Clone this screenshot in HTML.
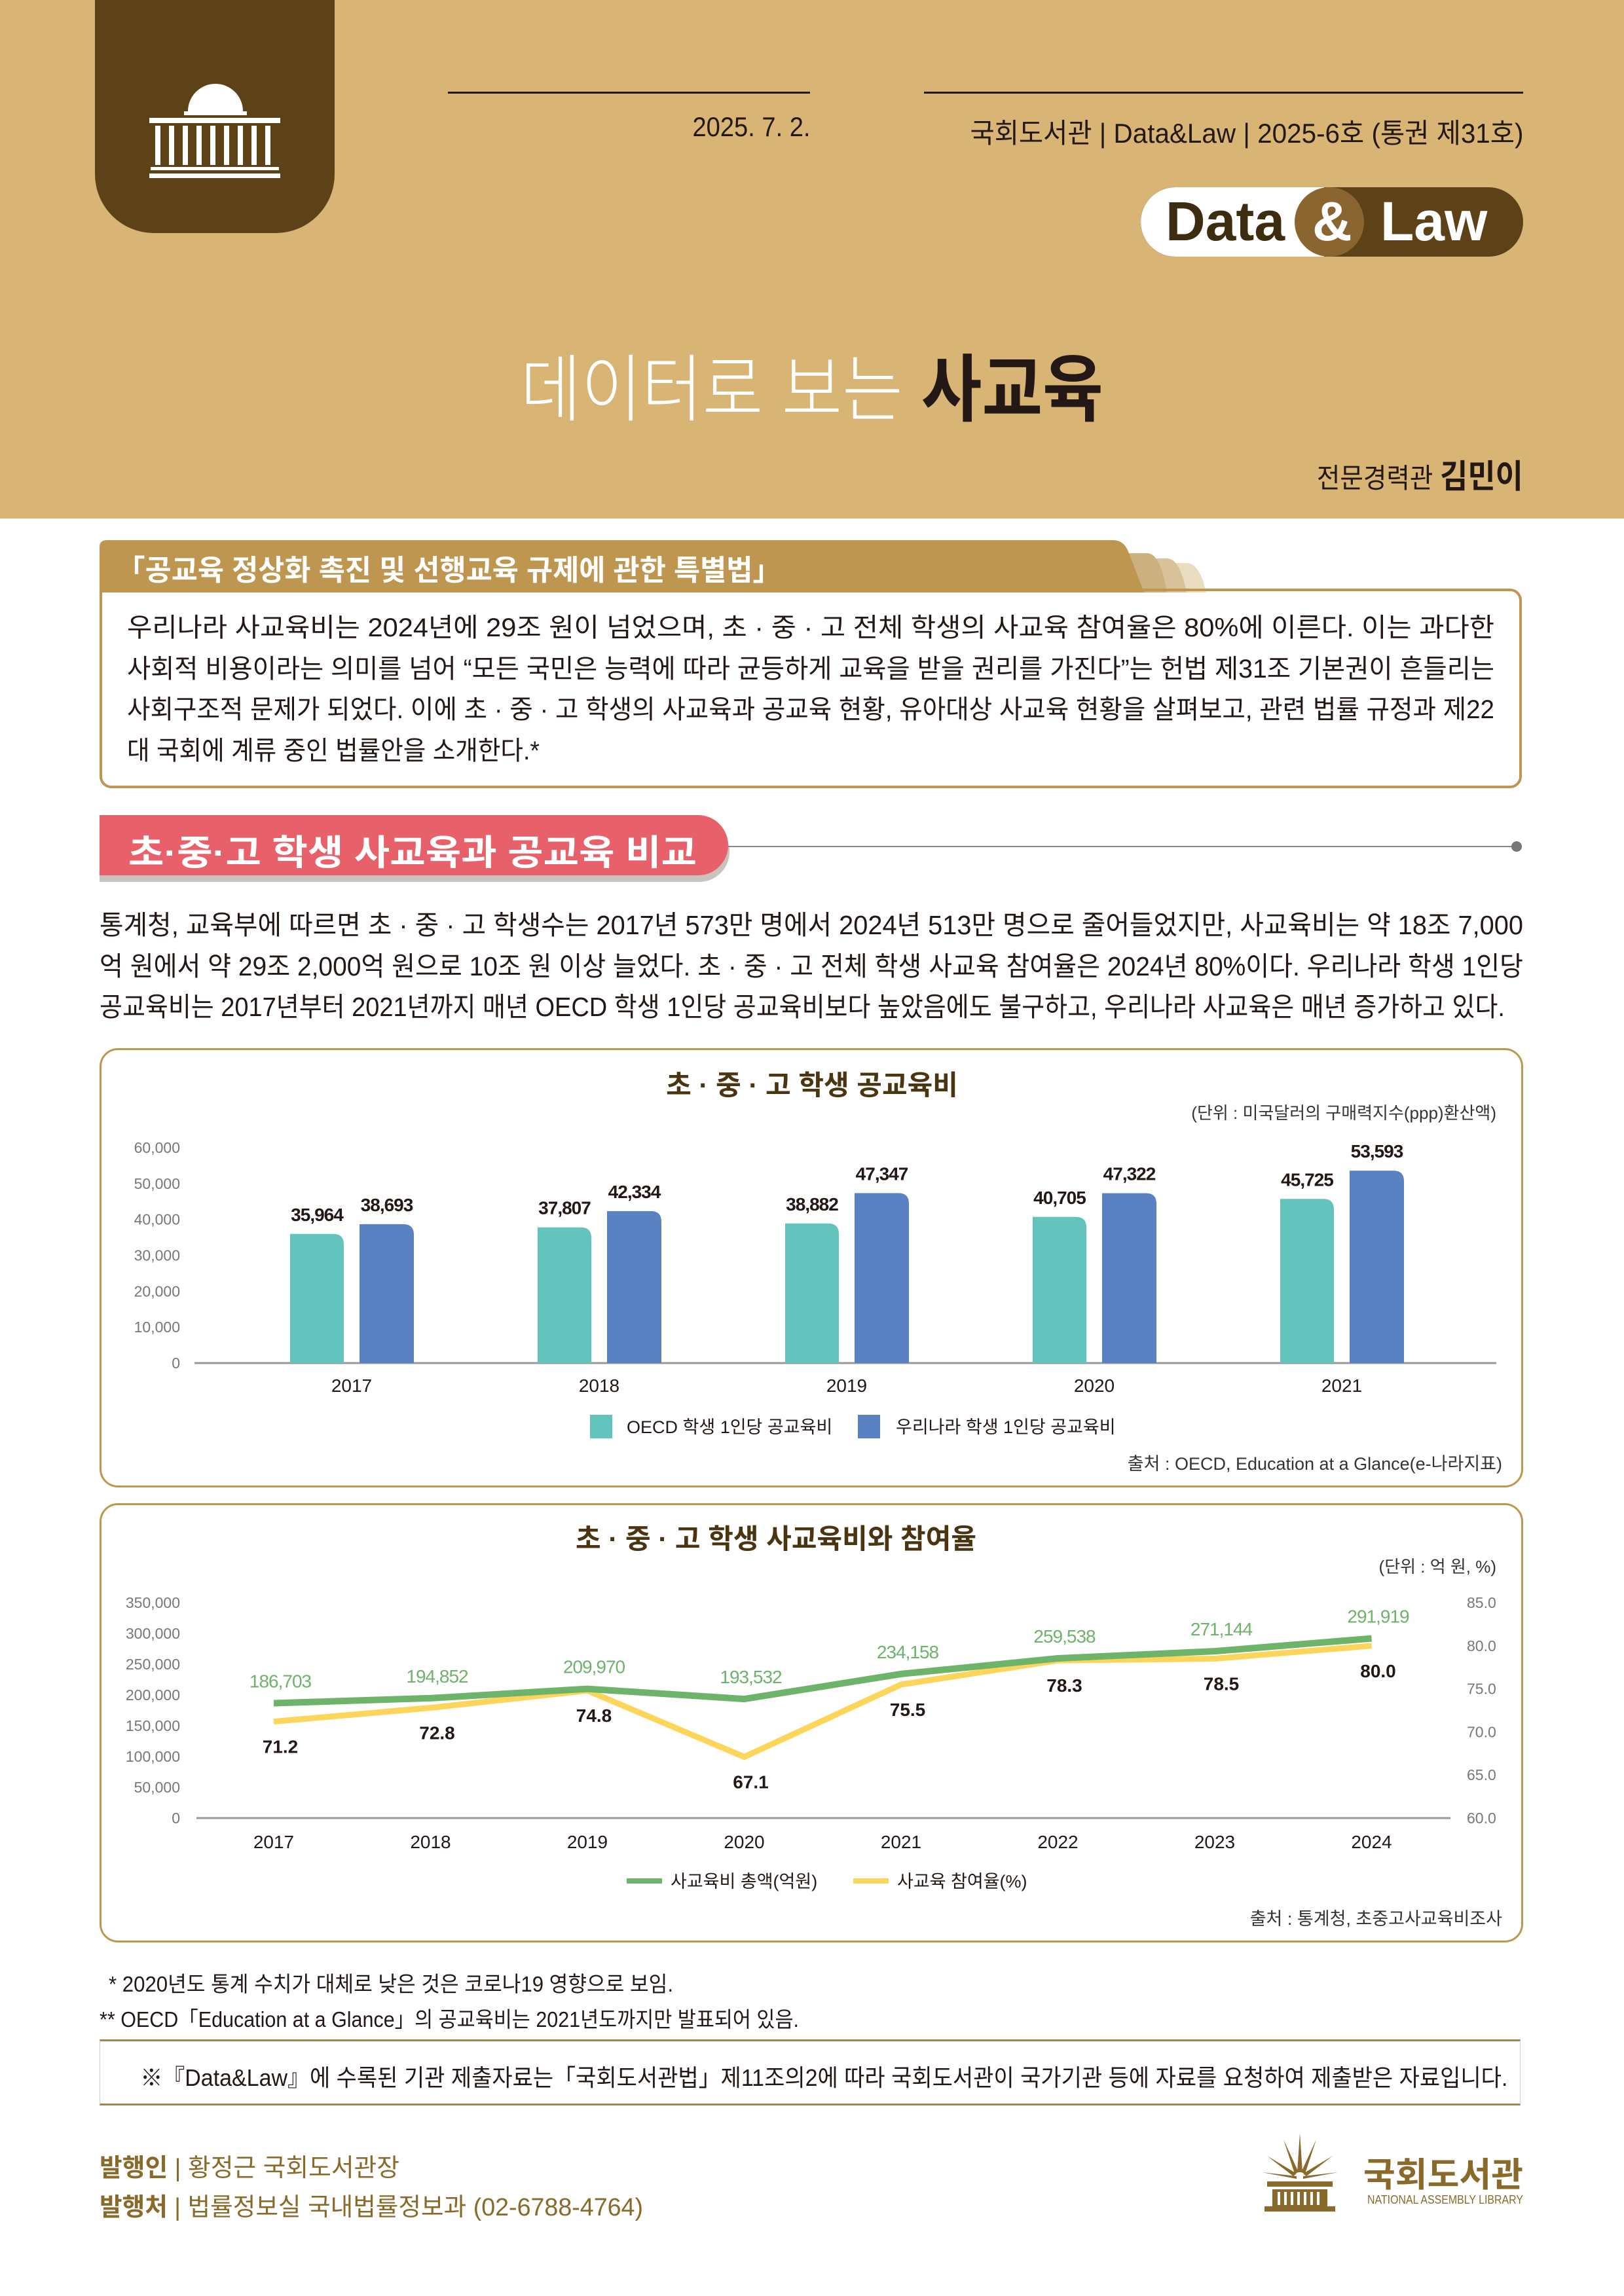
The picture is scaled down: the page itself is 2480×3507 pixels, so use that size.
<!DOCTYPE html>
<html><head><meta charset="utf-8">
<style>
*{margin:0;padding:0;box-sizing:border-box}
body{width:2480px;height:3507px;position:relative;background:#fff;font-family:"Liberation Sans","Noto Sans CJK KR",sans-serif;color:#231815;overflow:hidden}
.a{position:absolute;white-space:nowrap}
.fit{transform-origin:left center;display:inline-block}
.r .fit{transform-origin:right center}
.c .fit{transform-origin:center center}
</style></head><body>
<div class="a" style="left:0;top:0;width:2480px;height:792px;background:#d8b574"></div>
<div class="a" style="left:145px;top:0;width:366px;height:356px;background:#5c4216;border-radius:0 0 90px 90px">
<svg width="366" height="356"><g fill="#fff"><path d="M142 170 A42 42 0 0 1 226 170 Z"/><rect x="136" y="170" width="96" height="6"/><rect x="83" y="180" width="200" height="8"/>
<g><rect x="92" y="192" width="8" height="60"/><rect x="113" y="192" width="8" height="60"/><rect x="134" y="192" width="8" height="60"/><rect x="155" y="192" width="8" height="60"/><rect x="176" y="192" width="8" height="60"/><rect x="197" y="192" width="8" height="60"/><rect x="218" y="192" width="8" height="60"/><rect x="239" y="192" width="8" height="60"/><rect x="260" y="192" width="8" height="60"/></g>
<rect x="85" y="255" width="196" height="5"/><rect x="83" y="265" width="200" height="7"/></g></svg></div>
<div class="a" style="left:684px;top:140px;width:553px;height:3px;background:#231815"></div>
<div class="a" style="left:1411px;top:140px;width:915px;height:3px;background:#231815"></div>
<div class="a r" style="right:1243px;top:170px;font-size:42px;text-align:right"><span class="fit" data-w="180">2025. 7. 2.</span></div>
<div class="a r" style="right:154px;top:170px;font-size:42px;text-align:right"><span class="fit" data-w="845">국회도서관 | Data&amp;Law | 2025-6호 (통권 제31호)</span></div>
<div class="a" style="left:1742px;top:286px;width:584px;height:106px;border-radius:53px;background:#5c4216;overflow:hidden">
<div class="a" style="left:0;top:0;width:280px;height:106px;background:#fff;border-radius:53px 0 0 53px"></div>
<div class="a" style="left:235px;top:0;width:106px;height:106px;border-radius:53px;background:#8a6530"></div>
<div class="a" style="left:38px;top:4px;font-size:84px;font-weight:bold;color:#3c2c10">Data</div>
<div class="a" style="left:262px;top:4px;font-size:84px;font-weight:bold;color:#fff">&amp;</div>
<div class="a" style="left:366px;top:4px;font-size:84px;font-weight:bold;color:#fff">Law</div></div>
<div class="a c" style="left:0;width:2480px;top:505px;text-align:center;font-size:112px"><span class="fit" data-w="890"><span style="color:#fff;font-weight:300">데이터로 보는 </span><b style="color:#231815">사교육</b></span></div>
<div class="a r" style="right:154px;top:688px;font-size:42px;text-align:right"><span class="fit" data-w="315">전문경력관 <b style="font-size:50px">김민이</b></span></div>

<div class="a" style="left:152px;top:825px;width:1700px;height:80px">
<svg width="1700" height="80"><path d="M1590 35 L1660 35 Q1680 35 1690 80 L1610 80Z" fill="#eadcc0"/><path d="M1560 28 L1630 28 Q1650 28 1660 80 L1580 80Z" fill="#d9c29a"/><path d="M1530 20 L1600 20 Q1620 20 1630 80 L1550 80Z" fill="#cdb080"/><path d="M0 74 L0 10 Q0 0 12 0 L1548 0 Q1565 0 1572 20 L1595 80 L0 80Z" fill="#bf9650"/></svg></div>
<div class="a" style="left:178px;top:835px;font-size:44px;font-weight:bold;color:#fff"><span class="fit" data-w="1015">「공교육 정상화 촉진 및 선행교육 규제에 관한 특별법」</span></div>
<div class="a" style="left:152px;top:899px;width:2172px;height:305px;border:4px solid #bf9650;border-radius:0 18px 18px 18px"></div>
<div class="a" style="left:194px;top:928px;font-size:40px;line-height:62.5px">
<div><span class="fit" data-w="2088">우리나라 사교육비는 2024년에 29조 원이 넘었으며, 초 · 중 · 고 전체 학생의 사교육 참여율은 80%에 이른다. 이는 과다한</span></div>
<div><span class="fit" data-w="2088">사회적 비용이라는 의미를 넘어 “모든 국민은 능력에 따라 균등하게 교육을 받을 권리를 가진다”는 헌법 제31조 기본권이 흔들리는</span></div>
<div><span class="fit" data-w="2088">사회구조적 문제가 되었다. 이에 초 · 중 · 고 학생의 사교육과 공교육 현황, 유아대상 사교육 현황을 살펴보고, 관련 법률 규정과 제22</span></div>
<div><span class="fit" data-w="630">대 국회에 계류 중인 법률안을 소개한다.*</span></div></div>

<div class="a" style="left:152px;top:1255px;width:962px;height:92px;background:#c9c3bd;border-radius:0 46px 46px 0"></div>
<div class="a" style="left:152px;top:1245px;width:960px;height:92px;background:#e8606a;border-radius:0 46px 46px 0"></div>
<div class="a" style="left:196px;top:1258px;font-size:54px;font-weight:bold;color:#fff"><span class="fit" data-w="868">초·중·고 학생 사교육과 공교육 비교</span></div>
<div class="a" style="left:1112px;top:1292px;width:1200px;height:2px;background:#888"></div>
<div class="a" style="left:2308px;top:1285px;width:16px;height:16px;border-radius:8px;background:#777"></div>
<div class="a" style="left:152px;top:1382px;font-size:41px;line-height:62.5px">
<div><span class="fit" data-w="2174">통계청, 교육부에 따르면 초 · 중 · 고 학생수는 2017년 573만 명에서 2024년 513만 명으로 줄어들었지만, 사교육비는 약 18조 7,000</span></div>
<div><span class="fit" data-w="2174">억 원에서 약 29조 2,000억 원으로 10조 원 이상 늘었다. 초 · 중 · 고 전체 학생 사교육 참여율은 2024년 80%이다. 우리나라 학생 1인당</span></div>
<div><span class="fit" data-w="2146">공교육비는 2017년부터 2021년까지 매년 OECD 학생 1인당 공교육비보다 높았음에도 불구하고, 우리나라 사교육은 매년 증가하고 있다.</span></div></div>

<div class="a" style="left:152px;top:1601px;width:2174px;height:671px;border:3px solid #bf9650;border-radius:28px"></div>
<svg class="a" id="c1" style="left:0;top:0" width="2480" height="2300"></svg>
<div class="a" style="left:152px;top:2296px;width:2174px;height:671px;border:3px solid #bf9650;border-radius:28px"></div>
<svg class="a" id="c2" style="left:0;top:0" width="2480" height="3000"></svg>

<div class="a" style="left:166px;top:3004px;font-size:33px"><span class="fit" data-w="862">* 2020년도 통계 수치가 대체로 낮은 것은 코로나19 영향으로 보임.</span></div>
<div class="a" style="left:152px;top:3058px;font-size:33px"><span class="fit" data-w="1068">** OECD「Education at a Glance」의 공교육비는 2021년도까지만 발표되어 있음.</span></div>
<div class="a" style="left:152px;top:3115px;width:2170px;height:101px;border-top:3px solid #a38647;border-bottom:3px solid #a38647;border-left:1px solid #ccc;border-right:1px solid #ccc"></div>
<div class="a c" style="left:152px;width:2170px;top:3145px;font-size:36px;text-align:center"><span class="fit" data-w="2088">※『Data&amp;Law』에 수록된 기관 제출자료는「국회도서관법」제11조의2에 따라 국회도서관이 국가기관 등에 자료를 요청하여 제출받은 자료입니다.</span></div>
<div class="a" style="left:152px;top:3280px;font-size:38px;color:#8a6a2a"><span class="fit" data-w="458"><b>발행인</b> | 황정근 국회도서관장</span></div>
<div class="a" style="left:152px;top:3340px;font-size:38px;color:#8a6a2a"><span class="fit" data-w="830"><b>발행처</b> | 법률정보실 국내법률정보과 (02-6788-4764)</span></div>
<svg class="a" style="left:1925px;top:3258px" width="120" height="120"><g fill="#8a6a2a"><path d="M60 0 L64 60 L56 60Z"/><path d="M35 10 L58 60 L52 62Z"/><path d="M85 10 L62 60 L68 62Z"/><path d="M10 35 L55 62 L50 66Z"/><path d="M110 35 L65 62 L70 66Z"/><path d="M2 60 L55 66 L55 70Z"/><path d="M118 60 L65 66 L65 70Z"/><rect x="10" y="74" width="100" height="8"/><rect x="18" y="86" width="84" height="26" /><rect x="6" y="112" width="108" height="8"/></g><g fill="#fff"><rect x="26" y="90" width="4" height="20"/><rect x="36" y="90" width="4" height="20"/><rect x="46" y="90" width="4" height="20"/><rect x="56" y="90" width="4" height="20"/><rect x="66" y="90" width="4" height="20"/><rect x="76" y="90" width="4" height="20"/><rect x="86" y="90" width="4" height="20"/></g></svg>
<div class="a" style="left:2082px;top:3280px;font-size:52px;font-weight:bold;color:#8a6a2a"><span class="fit" data-w="244">국회도서관</span></div>
<div class="a" style="left:2088px;top:3350px;font-size:18px;color:#8a6a2a"><span class="fit" data-w="238">NATIONAL ASSEMBLY LIBRARY</span></div>

<script>
const years1 = ["2017","2018","2019","2020","2021"];
const oecdVals = [35964,37807,38882,40705,45725];
const koreaVals = [38693,42334,47347,47322,53593];
const ticks1 = [0,10000,20000,30000,40000,50000,60000];
const years2 = ["2017","2018","2019","2020","2021","2022","2023","2024"];
const spendVals = [186703,194852,209970,193532,234158,259538,271144,291919];
const rateVals = [71.2,72.8,74.8,67.1,75.5,78.3,78.5,80.0];
const ticksL = [0,50000,100000,150000,200000,250000,300000,350000];
const ticksR = [60,65,70,75,80,85];
const NS="http://www.w3.org/2000/svg";
const FONT='"Liberation Sans","Noto Sans CJK KR",sans-serif';
function mk(svg,tag,attrs,txt){const e=document.createElementNS(NS,tag);for(const k in attrs)e.setAttribute(k,attrs[k]);if(txt!==undefined)e.textContent=txt;svg.appendChild(e);return e;}
const fmt=v=>v.toLocaleString('en-US');
// chart 1
const s1=document.getElementById('c1');
const y1=v=>2082-(v/60000)*329;
const gx1=i=>537+i*378;
let t=mk(s1,'text',{x:1240,y:1672,'text-anchor':'middle','font-size':42,'font-weight':'bold',fill:'#4a3510','font-family':FONT},'초 · 중 · 고 학생 공교육비');

t=mk(s1,'text',{x:2285,y:1709,'text-anchor':'end','font-size':26,fill:'#333','font-family':FONT},'(단위 : 미국달러의 구매력지수(ppp)환산액)');

ticks1.forEach(v=>{const e=mk(s1,'text',{x:275,y:y1(v)+8,'text-anchor':'end','font-size':23,fill:'#777','font-family':FONT},fmt(v));
});
let ax=mk(s1,'line',{x1:297,x2:2285,y1:2082,y2:2082,stroke:'#999','stroke-width':3});

function bar(svg,x,w,v,col,name){const top=y1(v),r=16;
const p=mk(svg,'path',{d:`M${x} 2082 L${x} ${top} L${x+w-r} ${top} Q${x+w} ${top} ${x+w} ${top+r} L${x+w} 2082Z`,fill:col});

const l=mk(svg,'text',{x:x+w/2,y:top-20,'text-anchor':'middle','font-size':28,'font-weight':'bold',fill:'#231815','font-family':FONT,'letter-spacing':'-1'},fmt(v));
}
years1.forEach((yr,i)=>{const c=gx1(i);
bar(s1,c-94,82,oecdVals[i],'#63c3bd','bar-oecd-'+yr);
bar(s1,c+12,83,koreaVals[i],'#5a81c1','bar-korea-'+yr);
const e=mk(s1,'text',{x:c,y:2126,'text-anchor':'middle','font-size':28,fill:'#231815','font-family':FONT},yr);
});
let lg=mk(s1,'rect',{x:901,y:2161,width:34,height:36,fill:'#63c3bd'});
lg=mk(s1,'text',{x:957,y:2189,'font-size':27,fill:'#231815','font-family':FONT},'OECD 학생 1인당 공교육비');
lg=mk(s1,'rect',{x:1310,y:2161,width:34,height:36,fill:'#5a81c1'});
lg=mk(s1,'text',{x:1368,y:2189,'font-size':27,fill:'#231815','font-family':FONT},'우리나라 학생 1인당 공교육비');
lg=mk(s1,'text',{x:2294,y:2245,'text-anchor':'end','font-size':27,fill:'#333','font-family':FONT},'출처 : OECD, Education at a Glance(e-나라지표)');
// chart 2
const s2=document.getElementById('c2');
const yL=v=>2777-(v/350000)*329;
const yR=v=>2777-((v-60)/25)*329;
const gx2=i=>418+i*239.5;
t=mk(s2,'text',{x:1185,y:2365,'text-anchor':'middle','font-size':42,'font-weight':'bold',fill:'#4a3510','font-family':FONT},'초 · 중 · 고 학생 사교육비와 참여율');

t=mk(s2,'text',{x:2285,y:2402,'text-anchor':'end','font-size':26,fill:'#333','font-family':FONT},'(단위 : 억 원, %)');

ticksL.forEach(v=>{const e=mk(s2,'text',{x:275,y:yL(v)+8,'text-anchor':'end','font-size':23,fill:'#777','font-family':FONT},fmt(v));
});
ticksR.forEach(v=>{const e=mk(s2,'text',{x:2240,y:yR(v)+8,'font-size':23,fill:'#777','font-family':FONT},v.toFixed(1));
});
ax=mk(s2,'line',{x1:300,x2:2215,y1:2777,y2:2777,stroke:'#999','stroke-width':3});

years2.forEach((yr,i)=>{const e=mk(s2,'text',{x:gx2(i),y:2823,'text-anchor':'middle','font-size':28,fill:'#231815','font-family':FONT},yr);
});
const rp=rateVals.map((v,i)=>gx2(i)+','+yR(v)).join(' ');
const sp=spendVals.map((v,i)=>gx2(i)+','+yL(v)).join(' ');
let pl=mk(s2,'polyline',{points:rp,fill:'none',stroke:'#fdd55a','stroke-width':9,'stroke-linejoin':'miter'});

pl=mk(s2,'polyline',{points:sp,fill:'none',stroke:'#6db46a','stroke-width':10});

spendVals.forEach((v,i)=>{const e=mk(s2,'text',{x:gx2(i)+10,y:yL(v)-24,'text-anchor':'middle','font-size':28,fill:'#6db46a','font-family':FONT,'letter-spacing':'-1'},fmt(v));
});
rateVals.forEach((v,i)=>{const e=mk(s2,'text',{x:gx2(i)+10,y:yR(v)+48,'text-anchor':'middle','font-size':28,'font-weight':'bold',fill:'#231815','font-family':FONT},v.toFixed(1));
});
lg=mk(s2,'line',{x1:957,x2:1011,y1:2873,y2:2873,stroke:'#6db46a','stroke-width':8});
lg=mk(s2,'text',{x:1024,y:2883,'font-size':27,fill:'#231815','font-family':FONT},'사교육비 총액(억원)');
lg=mk(s2,'line',{x1:1303,x2:1357,y1:2873,y2:2873,stroke:'#fdd55a','stroke-width':8});
lg=mk(s2,'text',{x:1370,y:2883,'font-size':27,fill:'#231815','font-family':FONT},'사교육 참여율(%)');
lg=mk(s2,'text',{x:2294,y:2940,'text-anchor':'end','font-size':27,fill:'#333','font-family':FONT},'출처 : 통계청, 초중고사교육비조사');
// fit text widths
document.querySelectorAll('.fit').forEach(el=>{const w=+el.dataset.w;const cw=el.getBoundingClientRect().width;if(cw>0)el.style.transform='scaleX('+(w/cw)+')';});
</script>
</body></html>
